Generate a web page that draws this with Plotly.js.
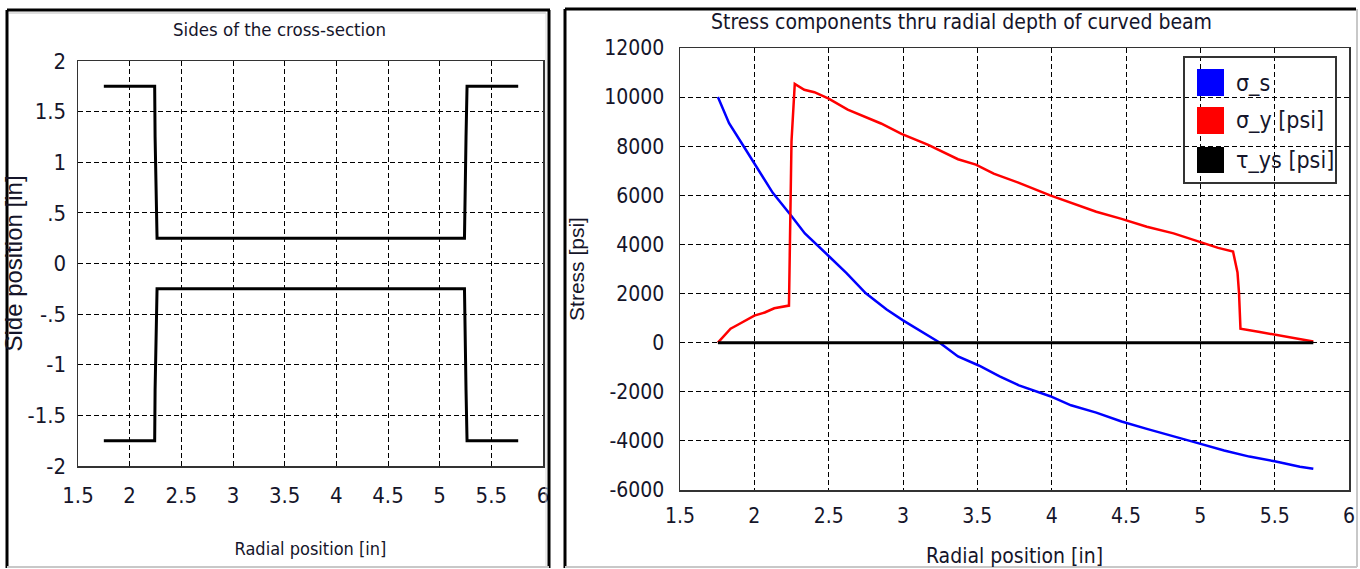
<!DOCTYPE html>
<html>
<head>
<meta charset="utf-8">
<script src="https://cdn.plot.ly/plotly-3.0.1.min.js"></script>
<style>
html,body{margin:0;padding:0;background:#ffffff;}
#chart{width:1360px;height:569px;}
</style>
</head>
<body>
<div id="chart"></div>
<script>
// ---------- Left chart: sides of the cross-section ----------
const sideRadial = [1.75, 2.242, 2.246, 2.255, 2.265, 5.24, 5.245, 5.255, 5.265, 5.76];
const sideTop    = [1.75, 1.75, 1.25, 0.75, 0.25, 0.25, 0.75, 1.25, 1.75, 1.75];
const sideBottom = [-1.75, -1.75, -1.25, -0.75, -0.25, -0.25, -0.75, -1.25, -1.75, -1.75];
const sideXTickVals = [1.5, 2, 2.5, 3, 3.5, 4, 4.5, 5, 5.5, 6];
const sideXTickText = ['1.5', '2', '2.5', '3', '3.5', '4', '4.5', '5', '5.5', '6'];
const sideYTickVals = [-2, -1.5, -1, -0.5, 0, 0.5, 1, 1.5, 2];
const sideYTickText = ['-2', '-1.5', '-1', '-.5', '0', '.5', '1', '1.5', '2'];

// ---------- Right chart: stress components ----------
const sigmaSRadial = [1.755, 1.83, 1.93, 2.0, 2.124, 2.247, 2.34, 2.5, 2.62, 2.75, 2.89, 3.0, 3.1, 3.24, 3.37,
  3.51, 3.65, 3.78, 3.99, 4.13, 4.3, 4.47, 4.64, 4.82, 4.99, 5.16, 5.33, 5.5, 5.67, 5.76];
const sigmaS = [10000, 8940, 7980, 7320, 6100, 5180, 4450, 3530, 2830, 2010, 1350, 910, 540, 30, -560,
  -930, -1370, -1740, -2180, -2550, -2850, -3210, -3510, -3800, -4100, -4390, -4640, -4830, -5050, -5130];

const sigmaYRadial = [1.755, 1.84, 1.88, 2.0, 2.07, 2.134, 2.233, 2.24, 2.25, 2.272, 2.336, 2.404, 2.5, 2.628,
  2.75, 2.852, 2.99, 3.17, 3.37, 3.49, 3.61, 3.78, 3.99, 4.13, 4.3, 4.47, 4.64, 4.82, 5.0, 5.12, 5.22,
  5.25, 5.26, 5.27, 5.4, 5.56, 5.72, 5.76];
const sigmaY = [0, 566, 700, 1104, 1230, 1400, 1510, 3700, 8200, 10540, 10300, 10200, 9935, 9490,
  9200, 8925, 8500, 8055, 7470, 7250, 6880, 6510, 6000, 5700, 5330, 5040, 4720, 4450, 4080, 3860, 3710,
  2860, 2050, 566, 433, 271, 93, 50];

const tauRadial = [1.755, 5.76];
const tauYS = [0, 0];

const stressXTickVals = [1.5, 2, 2.5, 3, 3.5, 4, 4.5, 5, 5.5, 6];
const stressXTickText = ['1.5', '2', '2.5', '3', '3.5', '4', '4.5', '5', '5.5', '6'];
const stressYTickVals = [-6000, -4000, -2000, 0, 2000, 4000, 6000, 8000, 10000, 12000];
const stressYTickText = ['-6000', '-4000', '-2000', '0', '2000', '4000', '6000', '8000', '10000', '12000'];

const seriesNames = ['σ_s', 'σ_y [psi]', 'τ_ys [psi]'];
const seriesColors = ['#0000ff', '#ff0000', '#000000'];

// ---------- helpers (pixel -> paper) ----------
const W = 1360, H = 569;
const px = v => v / W;
const py = v => 1 - v / H;

const NARROW = '"Liberation Sans Narrow", "Arial Narrow", "DejaVu Sans Condensed", sans-serif';
const REG = '"Liberation Sans", Arial, sans-serif';
const TXT = '#15152a';

const traces = [
  {x: sideRadial, y: sideTop, xaxis: 'x', yaxis: 'y', mode: 'lines', line: {color: '#000', width: 3}, showlegend: false, name: 'top side'},
  {x: sideRadial, y: sideBottom, xaxis: 'x', yaxis: 'y', mode: 'lines', line: {color: '#000', width: 3}, showlegend: false, name: 'bottom side'},
  {x: sigmaSRadial, y: sigmaS, xaxis: 'x2', yaxis: 'y2', mode: 'lines', line: {color: seriesColors[0], width: 2.5}, showlegend: false, name: seriesNames[0]},
  {x: sigmaYRadial, y: sigmaY, xaxis: 'x2', yaxis: 'y2', mode: 'lines', line: {color: seriesColors[1], width: 2.5}, showlegend: false, name: seriesNames[1]},
  {x: tauRadial, y: tauYS, xaxis: 'x2', yaxis: 'y2', mode: 'lines', line: {color: seriesColors[2], width: 3}, showlegend: false, name: seriesNames[2]}
];

const axisCommon = {
  showgrid: true, gridcolor: '#000', gridwidth: 1, griddash: '5px,3px',
  showline: true, linecolor: '#333', linewidth: 1.5, mirror: true,
  ticks: '', zeroline: false, fixedrange: true,
  tickfont: {family: NARROW, size: 22, color: TXT}
};

const layout = {
  width: W, height: H,
  margin: {l: 0, r: 0, t: 0, b: 0},
  paper_bgcolor: '#ffffff', plot_bgcolor: '#ffffff',
  showlegend: false,
  xaxis: Object.assign({}, axisCommon, {
    domain: [px(78), px(543)], anchor: 'y', range: [1.5, 6],
    tickmode: 'array', tickvals: sideXTickVals, ticktext: sideXTickText,
    ticklabelstandoff: 9,
    title: {text: 'Radial position [in]', font: {family: NARROW, size: 18, color: TXT}, standoff: 35}
  }),
  yaxis: Object.assign({}, axisCommon, {
    domain: [py(466), py(61)], anchor: 'x', range: [-2, 2],
    tickmode: 'array', tickvals: sideYTickVals, ticktext: sideYTickText,
    ticklabelstandoff: 6,
    title: {text: 'Side position [in]', font: {family: REG, size: 24, color: TXT}, standoff: 4}
  }),
  xaxis2: Object.assign({}, axisCommon, {
    domain: [px(680), px(1349)], anchor: 'y2', range: [1.5, 6],
    tickmode: 'array', tickvals: stressXTickVals, ticktext: stressXTickText,
    ticklabelstandoff: 6,
    tickfont: {family: NARROW, size: 21, color: TXT},
    title: {text: 'Radial position [in]', font: {family: NARROW, size: 21, color: TXT}, standoff: 21}
  }),
  yaxis2: Object.assign({}, axisCommon, {
    domain: [py(490), py(48)], anchor: 'x2', range: [-6000, 12000],
    tickmode: 'array', tickvals: stressYTickVals, ticktext: stressYTickText,
    ticklabelstandoff: 10,
    tickfont: {family: NARROW, size: 21, color: TXT},
    title: {text: 'Stress [psi]', font: {family: REG, size: 21, color: TXT}, standoff: 14}
  }),
  annotations: [
    {text: 'Sides of the cross-section', xref: 'paper', yref: 'paper', x: px(279), y: py(30),
     xanchor: 'center', yanchor: 'middle', showarrow: false, font: {family: NARROW, size: 18.5, color: TXT}},
    {text: 'Stress components thru radial depth of curved beam', xref: 'paper', yref: 'paper', x: px(961), y: py(22),
     xanchor: 'center', yanchor: 'middle', showarrow: false, font: {family: NARROW, size: 21, color: TXT}}
  ],
  shapes: []
};

// panel frames
function line(x0, y0, x1, y1, color, width) {
  layout.shapes.push({type: 'line', xref: 'paper', yref: 'paper', x0: px(x0), y0: py(y0), x1: px(x1), y1: py(y1),
    line: {color: color, width: width}, layer: 'above'});
}
// left panel
line(7, 10, 550, 10, '#000', 3);
line(7, 10, 7, 568, '#000', 3);
line(549, 10, 549, 568, '#000', 3);
line(9, 13, 546, 13, '#bdbdbd', 1);
line(546, 13, 546, 566, '#d8d8d8', 1);
line(7, 567, 549, 567, '#c8c8c8', 2);
// right panel
line(565, 9, 1356, 9, '#000', 3);
line(565, 9, 565, 568, '#000', 3);
line(1357, 9, 1357, 567, '#c8c8c8', 2);
line(565, 567, 1357, 567, '#c8c8c8', 2);

// legend (drawn as shapes + text)
layout.shapes.push({type: 'rect', xref: 'paper', yref: 'paper', x0: px(1184), y0: py(183), x1: px(1336), y1: py(57),
  line: {color: '#333', width: 2}, fillcolor: 'rgba(0,0,0,0)', layer: 'above'});
const legendRows = [[69, 96], [107, 134], [147, 173]];
seriesNames.forEach((name, i) => {
  const r = legendRows[i];
  layout.shapes.push({type: 'rect', xref: 'paper', yref: 'paper', x0: px(1197), y0: py(r[1]), x1: px(1224), y1: py(r[0]),
    line: {width: 0}, fillcolor: seriesColors[i], layer: 'above'});
  layout.annotations.push({text: name, xref: 'paper', yref: 'paper', x: px(1234), y: py((r[0] + r[1]) / 2),
    xanchor: 'left', yanchor: 'middle', showarrow: false, font: {family: NARROW, size: 23, color: TXT}});
});

Plotly.newPlot('chart', traces, layout, {displayModeBar: false, staticPlot: true});
</script>
</body>
</html>
